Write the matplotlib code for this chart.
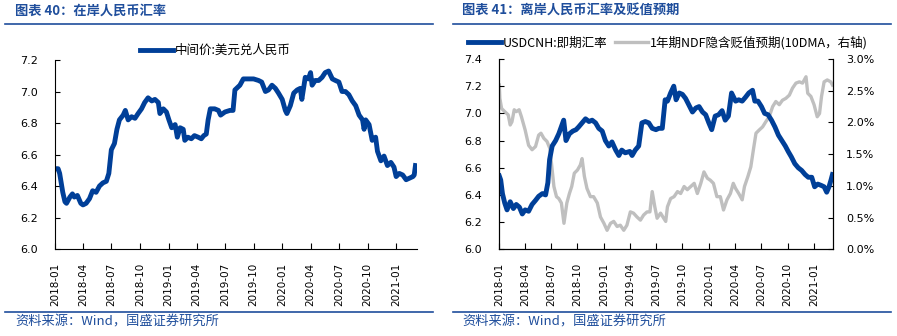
import pandas as pd
import matplotlib
matplotlib.use("Agg")
from matplotlib import pyplot as plt
import matplotlib.dates as mdates
from matplotlib.lines import Line2D
from matplotlib.ticker import FormatStrFormatter

# ---- 图表40: 在岸人民币汇率 (中间价)
on_dates = ['2018-01-02', '2018-01-11', '2018-01-16', '2018-01-21', '2018-01-26', '2018-02-02', '2018-02-07',
            '2018-02-18', '2018-02-26', '2018-03-04', '2018-03-14', '2018-03-25', '2018-04-01', '2018-04-11',
            '2018-04-22', '2018-05-02', '2018-05-13', '2018-05-24', '2018-06-04', '2018-06-15', '2018-06-23',
            '2018-07-01', '2018-07-11', '2018-07-19', '2018-07-27', '2018-08-08', '2018-08-15', '2018-08-24',
            '2018-09-04', '2018-09-15', '2018-09-25', '2018-10-06', '2018-10-16', '2018-10-27', '2018-11-08',
            '2018-11-18', '2018-11-29', '2018-12-04', '2018-12-15', '2018-12-25', '2019-01-02', '2019-01-11',
            '2019-01-22', '2019-01-29', '2019-02-07', '2019-02-17', '2019-02-22', '2019-03-04', '2019-03-15',
            '2019-03-25', '2019-04-06', '2019-04-16', '2019-04-24', '2019-05-02', '2019-05-08', '2019-05-15',
            '2019-05-29', '2019-06-10', '2019-06-17', '2019-07-01', '2019-07-17', '2019-07-27', '2019-08-02',
            '2019-08-18', '2019-08-29', '2019-09-15', '2019-10-01', '2019-10-17', '2019-10-27', '2019-11-08',
            '2019-11-18', '2019-11-29', '2019-12-10', '2019-12-20', '2020-01-01', '2020-01-11', '2020-01-16',
            '2020-01-27', '2020-02-07', '2020-02-18', '2020-02-28', '2020-03-04', '2020-03-15', '2020-03-25',
            '2020-04-01', '2020-04-06', '2020-04-16', '2020-04-27', '2020-05-08', '2020-05-18', '2020-05-29',
            '2020-06-10', '2020-06-20', '2020-07-01', '2020-07-11', '2020-07-22', '2020-08-02', '2020-08-13',
            '2020-08-24', '2020-09-04', '2020-09-15', '2020-09-20', '2020-09-25', '2020-10-06', '2020-10-16',
            '2020-10-27', '2020-11-02', '2020-11-13', '2020-11-23', '2020-12-04', '2020-12-15', '2020-12-25',
            '2021-01-01', '2021-01-11', '2021-01-22', '2021-02-02', '2021-02-13', '2021-02-24', '2021-02-28',
            '2021-03-04']
on_fix = [6.51, 6.51, 6.48, 6.42, 6.36, 6.30, 6.29,
          6.33, 6.35, 6.33, 6.34, 6.29, 6.28, 6.29,
          6.32, 6.37, 6.36, 6.40, 6.42, 6.43, 6.48,
          6.63, 6.67, 6.76, 6.82, 6.85, 6.88, 6.82,
          6.84, 6.83, 6.86, 6.89, 6.93, 6.96, 6.94,
          6.95, 6.93, 6.86, 6.89, 6.87, 6.82, 6.77,
          6.79, 6.71, 6.77, 6.76, 6.69, 6.71, 6.70,
          6.72, 6.71, 6.70, 6.72, 6.73, 6.82, 6.89,
          6.89, 6.88, 6.85, 6.87, 6.88, 6.88, 7.01,
          7.04, 7.08, 7.08, 7.08, 7.07, 7.06, 7.00,
          7.01, 7.04, 7.02, 6.99, 6.95, 6.88, 6.86,
          6.91, 6.99, 7.01, 7.02, 6.95, 7.09, 7.08,
          7.12, 7.04, 7.07, 7.07, 7.09, 7.12, 7.13,
          7.08, 7.07, 7.06, 7.00, 7.00, 6.98, 6.94,
          6.91, 6.85, 6.82, 6.76, 6.82, 6.79, 6.69,
          6.71, 6.62, 6.56, 6.59, 6.53, 6.55, 6.52,
          6.46, 6.48, 6.47, 6.44, 6.45, 6.46, 6.47,
          6.53]

# ---- 图表41: 离岸人民币汇率及贬值预期
cnh_dates = ['2018-01-02', '2018-01-07', '2018-01-13', '2018-01-21', '2018-01-29', '2018-02-09', '2018-02-20',
             '2018-03-02', '2018-03-13', '2018-03-23', '2018-04-02', '2018-04-14', '2018-04-26', '2018-05-08',
             '2018-05-19', '2018-06-01', '2018-06-12', '2018-06-20', '2018-06-26', '2018-07-05', '2018-07-17',
             '2018-07-28', '2018-08-14', '2018-08-22', '2018-09-03', '2018-09-15', '2018-09-26', '2018-10-05',
             '2018-10-17', '2018-10-29', '2018-11-10', '2018-11-21', '2018-12-03', '2018-12-14', '2018-12-26',
             '2019-01-06', '2019-01-18', '2019-01-29', '2019-02-11', '2019-02-22', '2019-03-04', '2019-03-16',
             '2019-04-01', '2019-04-09', '2019-04-20', '2019-05-02', '2019-05-13', '2019-05-25', '2019-06-06',
             '2019-06-18', '2019-07-01', '2019-07-11', '2019-07-23', '2019-08-02', '2019-08-10', '2019-08-21',
             '2019-09-01', '2019-09-09', '2019-09-20', '2019-10-01', '2019-10-12', '2019-10-24', '2019-11-05',
             '2019-11-17', '2019-11-28', '2019-12-10', '2019-12-21', '2020-01-01', '2020-01-11', '2020-01-23',
             '2020-02-04', '2020-02-16', '2020-02-27', '2020-03-09', '2020-03-20', '2020-04-03', '2020-04-14',
             '2020-04-26', '2020-05-08', '2020-05-19', '2020-06-01', '2020-06-09', '2020-06-20', '2020-07-02',
             '2020-07-13', '2020-07-25', '2020-08-06', '2020-08-18', '2020-08-30', '2020-09-11', '2020-09-23',
             '2020-10-03', '2020-10-14', '2020-10-26', '2020-11-07', '2020-11-19', '2020-12-01', '2020-12-12',
             '2020-12-24', '2021-01-03', '2021-01-14', '2021-01-26', '2021-02-05', '2021-02-14', '2021-02-22',
             '2021-03-01', '2021-03-06']
usdcnh = [6.54, 6.51, 6.41, 6.34, 6.29, 6.35, 6.30,
          6.33, 6.31, 6.26, 6.29, 6.28, 6.33, 6.36,
          6.39, 6.41, 6.40, 6.49, 6.66, 6.76, 6.80,
          6.85, 6.95, 6.80, 6.85, 6.87, 6.88, 6.90,
          6.93, 6.96, 6.94, 6.95, 6.93, 6.89, 6.87,
          6.80, 6.76, 6.79, 6.73, 6.69, 6.73, 6.71,
          6.72, 6.69, 6.73, 6.76, 6.93, 6.94, 6.93,
          6.89, 6.88, 6.89, 6.89, 7.10, 7.09, 7.15,
          7.20, 7.10, 7.15, 7.14, 7.11, 7.06, 7.01,
          7.04, 7.05, 7.01, 6.99, 6.93, 6.88, 6.98,
          6.99, 7.02, 6.95, 6.98, 7.15, 7.09, 7.10,
          7.09, 7.12, 7.15, 7.17, 7.09, 7.09, 7.05,
          7.00, 6.99, 6.95, 6.90, 6.84, 6.80, 6.76,
          6.72, 6.68, 6.63, 6.60, 6.58, 6.55, 6.53,
          6.53, 6.46, 6.48, 6.47, 6.46, 6.42, 6.46,
          6.51, 6.55]

ndf_dates = ['2018-01-02', '2018-01-04', '2018-01-10', '2018-01-21', '2018-02-02', '2018-02-09', '2018-02-15',
             '2018-02-23', '2018-03-02', '2018-03-12', '2018-03-20', '2018-04-02', '2018-04-14', '2018-04-26',
             '2018-05-08', '2018-05-19', '2018-05-27', '2018-06-06', '2018-06-17', '2018-06-27', '2018-07-05',
             '2018-07-11', '2018-07-20', '2018-07-28', '2018-08-06', '2018-08-15', '2018-08-25', '2018-09-03',
             '2018-09-11', '2018-09-20', '2018-10-01', '2018-10-11', '2018-10-17', '2018-10-25', '2018-11-03',
             '2018-11-15', '2018-11-26', '2018-12-09', '2018-12-20', '2019-01-01', '2019-01-12', '2019-01-24',
             '2019-02-04', '2019-02-16', '2019-02-27', '2019-03-11', '2019-03-22', '2019-04-03', '2019-04-14',
             '2019-04-26', '2019-05-08', '2019-05-19', '2019-05-31', '2019-06-10', '2019-06-18', '2019-06-27',
             '2019-07-05', '2019-07-17', '2019-08-04', '2019-08-10', '2019-08-21', '2019-09-02', '2019-09-14',
             '2019-09-25', '2019-10-07', '2019-10-18', '2019-10-30', '2019-11-11', '2019-11-22', '2019-12-04',
             '2019-12-15', '2019-12-27', '2020-01-06', '2020-01-17', '2020-01-29', '2020-02-10', '2020-02-21',
             '2020-03-04', '2020-03-16', '2020-03-26', '2020-04-03', '2020-04-14', '2020-04-26', '2020-05-04',
             '2020-05-16', '2020-05-26', '2020-06-04', '2020-06-13', '2020-06-24', '2020-07-06', '2020-07-17',
             '2020-07-29', '2020-08-10', '2020-08-21', '2020-09-02', '2020-09-13', '2020-09-25', '2020-10-07',
             '2020-10-18', '2020-10-30', '2020-11-11', '2020-11-22', '2020-12-04', '2020-12-10', '2020-12-21',
             '2021-01-01', '2021-01-12', '2021-01-20', '2021-01-27', '2021-02-05', '2021-02-16', '2021-02-28',
             '2021-03-06']
ndf_dep = [2.59, 2.38, 2.22, 2.17, 2.12, 1.96, 2.01,
           2.20, 2.17, 2.20, 2.09, 1.88, 1.64, 1.57,
           1.62, 1.80, 1.83, 1.75, 1.70, 1.59, 1.25,
           0.99, 0.83, 0.80, 0.73, 0.41, 0.73, 0.88,
           0.99, 1.20, 1.25, 1.33, 1.43, 1.15, 0.96,
           0.83, 0.83, 0.73, 0.51, 0.41, 0.30, 0.41,
           0.44, 0.36, 0.38, 0.30, 0.38, 0.59, 0.57,
           0.51, 0.46, 0.54, 0.59, 0.59, 0.91, 0.67,
           0.49, 0.57, 0.44, 0.67, 0.80, 0.83, 0.91,
           0.88, 0.99, 0.94, 0.99, 1.04, 0.88, 1.04,
           1.22, 1.12, 1.09, 1.04, 0.83, 0.83, 0.62,
           0.78, 0.88, 1.04, 0.96, 0.88, 0.78, 0.99,
           1.15, 1.30, 1.57, 1.83, 1.88, 1.93, 2.01,
           2.09, 2.25, 2.33, 2.28, 2.35, 2.38, 2.43,
           2.54, 2.62, 2.64, 2.62, 2.72, 2.46, 2.41,
           2.28, 2.09, 2.14, 2.41, 2.64, 2.67, 2.64,
           2.59]

blue = '#003F98'
gray = '#BFBFBF'
head = '#1F4E9C'
cjk = ['Noto Sans CJK SC', 'DejaVu Sans']

plt.rcParams['font.family'] = ['DejaVu Sans']
plt.rcParams['axes.linewidth'] = 0.8

fig = plt.figure(figsize=(8.97, 3.36), dpi=100)

xmin = pd.Timestamp('2018-01-01')
xmax = pd.Timestamp('2021-03-09')


def style_x(ax):
    ax.set_xlim(xmin, xmax)
    ax.xaxis.set_major_locator(mdates.MonthLocator(bymonth=[1, 4, 7, 10]))
    ax.xaxis.set_major_formatter(mdates.DateFormatter('%Y-%m'))
    ax.tick_params(axis='x', direction='in', length=4, width=0.8, pad=10, labelsize=7.5, labelrotation=90)
    ax.tick_params(axis='y', direction='in', length=3.5, width=0.8, pad=12, labelsize=8)


# left chart
ax1 = fig.add_axes([0.0613, 0.2589, 0.4036, 0.5625])
ax1.plot(pd.to_datetime(on_dates), on_fix, color=blue, lw=3.5, label='中间价:美元兑人民币')
ax1.set_ylim(6.0, 7.2)
ax1.set_yticks([6.0, 6.2, 6.4, 6.6, 6.8, 7.0, 7.2])
ax1.yaxis.set_major_formatter(FormatStrFormatter('%.1f'))
style_x(ax1)
ax1.spines['top'].set_visible(False)
ax1.spines['right'].set_visible(False)
ax1.legend(loc='center left', bbox_to_anchor=(140 / 897, 1 - 50.5 / 336), bbox_transform=fig.transFigure,
           frameon=False, prop={'family': cjk, 'size': 9}, handlelength=2.6, handletextpad=0.2,
           borderpad=0, borderaxespad=0)

# right chart
ax2 = fig.add_axes([0.5563, 0.2580, 0.3727, 0.5664])
ax3 = ax2.twinx()
l2, = ax2.plot(pd.to_datetime(cnh_dates), usdcnh, color=blue, lw=3.5)
l3, = ax3.plot(pd.to_datetime(ndf_dates), ndf_dep, color=gray, lw=2.4)
ax2.set_zorder(ax3.get_zorder() + 1)
ax2.patch.set_visible(False)
ax2.set_ylim(6.0, 7.4)
ax2.set_yticks([6.0, 6.2, 6.4, 6.6, 6.8, 7.0, 7.2, 7.4])
ax2.yaxis.set_major_formatter(FormatStrFormatter('%.1f'))
ax3.set_ylim(0, 3.0)
ax3.set_yticks([0, 0.5, 1.0, 1.5, 2.0, 2.5, 3.0])
ax3.yaxis.set_major_formatter(FormatStrFormatter('%.1f%%'))
ax3.tick_params(axis='y', direction='in', length=3.5, width=0.8, pad=9, labelsize=8)
style_x(ax2)
ax3.set_xlim(xmin, xmax)
ax2.spines['top'].set_visible(False)
ax3.spines['top'].set_visible(False)
fig.legend([l2, l3], ['USDCNH:即期汇率', '1年期NDF隐含贬值预期(10DMA，右轴)'],
           loc='center left', bbox_to_anchor=(468 / 897, 1 - 43 / 336), frameon=False, ncol=2,
           prop={'family': cjk, 'size': 9}, handlelength=2.6, handletextpad=0.2, columnspacing=0.6,
           borderpad=0, borderaxespad=0)

# titles, rules and source notes
for x0, x1, xt, title in [(5, 433, 15, '图表 40：在岸人民币汇率'),
                          (453, 891, 462, '图表 41：离岸人民币汇率及贬值预期')]:
    fig.text(xt / 897, 1 - 11 / 336, title, family=cjk, size=9.5, weight='bold', color=head,
             ha='left', va='center')
    fig.add_artist(Line2D([x0 / 897, x1 / 897], [1 - 24 / 336] * 2, transform=fig.transFigure,
                          color=head, lw=1.2))
    fig.add_artist(Line2D([x0 / 897, x1 / 897], [1 - 311.5 / 336] * 2, transform=fig.transFigure,
                          color=head, lw=1.2))
    fig.text(xt / 897, 1 - 322 / 336, '资料来源：Wind，国盛证券研究所', family=cjk, size=9.5,
             color=head, ha='left', va='center')

fig.savefig('out.png', dpi=100)
